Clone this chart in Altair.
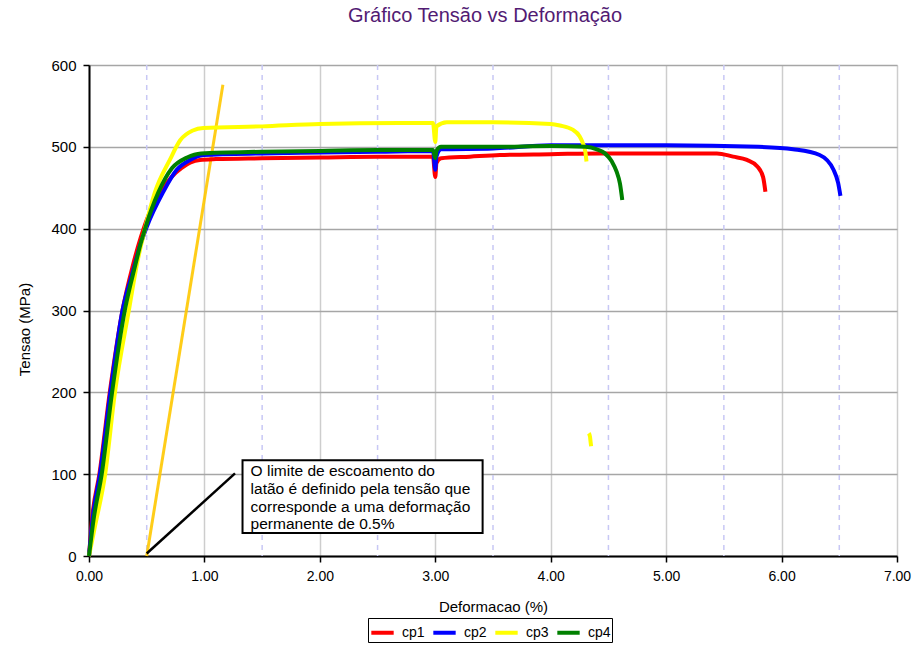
import altair as alt
import pandas as pd

FONT = "Liberation Sans"

# ---- data -------------------------------------------------------------------
series_names = ["cp1", "cp2", "cp3", "cp4"]
series_colors = ["#FF0000", "#0000FF", "#FFFF00", "#008000"]
series_widths = [4, 4, 6, 2.5]

cp1_strain = [0, 0.03, 0.09, 0.18, 0.29, 0.38, 0.45, 0.52, 0.62, 0.72, 0.80, 0.88, 0.96, 1.10,
              1.50, 2.00, 2.50, 2.98, 3.00, 3.01, 3.05, 3.30, 3.56, 4.00, 4.43, 5.00, 5.44,
              5.58, 5.70, 5.79, 5.84, 5.86]
cp1_stress = [0, 50, 100, 200, 300, 355, 390, 418, 445, 464, 474, 481, 484, 485,
              486, 487, 488, 488, 463, 480, 486, 488, 490, 491, 492, 492, 492,
              488, 484, 476, 463, 445]

cp2_strain = [0, 0.035, 0.095, 0.185, 0.29, 0.385, 0.44, 0.50, 0.64, 0.76, 0.875, 0.99, 1.50,
              2.00, 2.50, 2.98, 3.00, 3.01, 3.05, 3.50, 4.00, 5.00, 5.80, 6.10, 6.33, 6.45,
              6.49, 6.51]
cp2_stress = [0, 50, 100, 200, 300, 350, 378, 402, 444, 472, 484, 490, 492,
              493, 494, 495, 472, 488, 497, 498, 502, 502, 500, 497, 490, 472,
              456, 440]

cp3_strain = [0, 0.05, 0.14, 0.225, 0.345, 0.42, 0.485, 0.57, 0.70, 0.79, 0.90, 0.99, 1.50,
              2.00, 2.69, 2.98, 3.00, 3.01, 3.10, 3.50, 4.00, 4.08, 4.19, 4.25, 4.28, 4.30, 4.31]
cp3_stress = [0, 35, 100, 200, 300, 360, 400, 444, 484, 508, 520, 523, 525,
              528, 529, 529, 506, 525, 530, 530, 528, 526, 521, 513, 504, 494, 482]
cp3_tail_strain = [4.33, 4.34, 4.345, 4.35]
cp3_tail_stress = [150, 146, 140, 134]

cp4_strain = [0, 0.04, 0.11, 0.20, 0.31, 0.40, 0.45, 0.49, 0.60, 0.72, 0.85, 0.97, 1.50, 2.00,
              2.50, 2.98, 3.00, 3.01, 3.05, 3.50, 4.00, 4.30, 4.40, 4.47, 4.53, 4.57, 4.60, 4.62]
cp4_stress = [0, 45, 100, 200, 300, 355, 383, 402, 444, 474, 487, 492, 494, 495,
              496, 496, 486, 495, 500, 500, 501, 500, 497, 492, 482, 470, 455, 435]

# 0.5 % offset line and annotation pointer
offset_strain = [0.5, 1.16]
offset_stress = [0, 576]
pointer_strain = [0.5, 1.265]
pointer_stress = [3, 101]

# annotation box (data units) and text
box_strain = [1.33, 3.41]
box_stress = [28, 117]
note_strain = 1.40
note_stress = 112
note_lines = ["O limite de escoamento do",
              "latão é definido pela tensão que",
              "corresponde a uma deformação",
              "permanente de 0.5%"]

x_ticks = [0, 1, 2, 3, 4, 5, 6, 7]
y_ticks = [0, 100, 200, 300, 400, 500, 600]
minor_x = [0.5, 1.5, 2.5, 3.5, 4.5, 5.5, 6.5]

# ---- tables -----------------------------------------------------------------
rows = []
def add(series, seg, xs, ys):
    for i, (x, y) in enumerate(zip(xs, ys)):
        rows.append({"series": series, "seg": seg, "order": i, "strain": x, "stress": y})

add("cp1", "cp1a", cp1_strain, cp1_stress)
add("cp2", "cp2a", cp2_strain, cp2_stress)
add("cp3", "cp3a", cp3_strain, cp3_stress)
add("cp3", "cp3b", cp3_tail_strain, cp3_tail_stress)
add("cp4", "cp4a", cp4_strain, cp4_stress)
df = pd.DataFrame(rows)

xscale = alt.Scale(domain=[0, 7], nice=False, zero=False)
yscale = alt.Scale(domain=[0, 600], nice=False)

x_axis = alt.Axis(title="Deformacao (%)", values=x_ticks, format=".2f",
                  domainColor="black", domainWidth=2, tickColor="black", tickSize=6,
                  tickWidth=1.5, labelFontSize=14, labelPadding=7, labelFlush=False,
                  labelOverlap=False, gridColor="#CDCDCD", gridWidth=1.5,
                  titleFontSize=15, titleFontWeight="normal", titleY=50,
                  titleBaseline="middle")
y_axis = alt.Axis(title="Tensao (MPa)", values=y_ticks, format="d",
                  domainColor="black", domainWidth=2, tickColor="black", tickSize=6,
                  tickWidth=1.5, labelFontSize=15, labelPadding=7, labelOverlap=False,
                  gridColor="#A6A6A6", gridWidth=1.5,
                  titleFontSize=15, titleFontWeight="normal", titleX=-65, titleY=264,
                  titleAngle=-90, titleBaseline="middle", titleAlign="center")

def X(field):
    return alt.X(field, scale=xscale, axis=x_axis)

def Y(field):
    return alt.Y(field, scale=yscale, axis=y_axis)

minor = alt.Chart(pd.DataFrame({"x": minor_x})).mark_rule(
    color="#C8C8F5", strokeDash=[5, 5], strokeWidth=1.5
).encode(x=X("x:Q"))

offset_line = alt.Chart(pd.DataFrame({"x": offset_strain, "y": offset_stress})).mark_line(
    color="#FFC800", strokeWidth=3, opacity=0.9
).encode(x=X("x:Q"), y=Y("y:Q"))

lines = alt.Chart(df).mark_line(strokeJoin="round", interpolate="monotone").encode(
    x=X("strain:Q"),
    y=Y("stress:Q"),
    color=alt.Color("series:N",
                    scale=alt.Scale(domain=series_names, range=series_colors),
                    legend=alt.Legend(title=None, orient="none", legendX=279, legendY=553,
                                      direction="horizontal", symbolType="stroke",
                                      symbolSize=500, symbolStrokeWidth=2,
                                      labelFont=FONT, labelFontSize=14, labelOffset=6,
                                      columnPadding=0, strokeColor="black", padding=1,
                                      fillColor="white")),
    strokeWidth=alt.StrokeWidth("series:N",
                                scale=alt.Scale(domain=series_names, range=series_widths),
                                legend=None),
    detail="seg:N",
    order="order:Q",
)

pointer = alt.Chart(pd.DataFrame({"x": pointer_strain, "y": pointer_stress})).mark_line(
    color="black", strokeWidth=2.5
).encode(x=X("x:Q"), y=Y("y:Q"))

box = alt.Chart(pd.DataFrame({"x": [box_strain[0]], "x2": [box_strain[1]],
                              "y": [box_stress[0]], "y2": [box_stress[1]]})).mark_rect(
    fill="white", stroke="black", strokeWidth=2
).encode(x=X("x:Q"), x2="x2:Q", y=Y("y:Q"), y2="y2:Q")

note = alt.Chart(pd.DataFrame({"x": [note_strain], "y": [note_stress],
                               "t": ["\n".join(note_lines)]})).mark_text(
    align="left", baseline="top", font=FONT, fontSize=15.5, lineBreak="\n",
    lineHeight=17.7, color="black"
).encode(x=X("x:Q"), y=Y("y:Q"), text="t:N")

chart = alt.layer(minor, offset_line, lines, pointer, box, note).properties(
    width=808, height=491,
    autosize=alt.AutoSizeParams(type="none"),
    padding={"left": 89, "top": 65, "right": 20, "bottom": 94},
    title=alt.TitleParams("Gráfico Tensão vs Deformação", font=FONT, fontSize=20,
                          fontWeight="normal", color="#521B73", anchor="middle",
                          offset=32, dx=-8),
).configure_view(stroke="#8C8C8C", strokeWidth=2).configure_axis(
    labelFont=FONT, titleFont=FONT, labelColor="black", titleColor="black"
).configure(background="white")

chart.save("out.html", embed_options={"renderer": "svg", "actions": False})
